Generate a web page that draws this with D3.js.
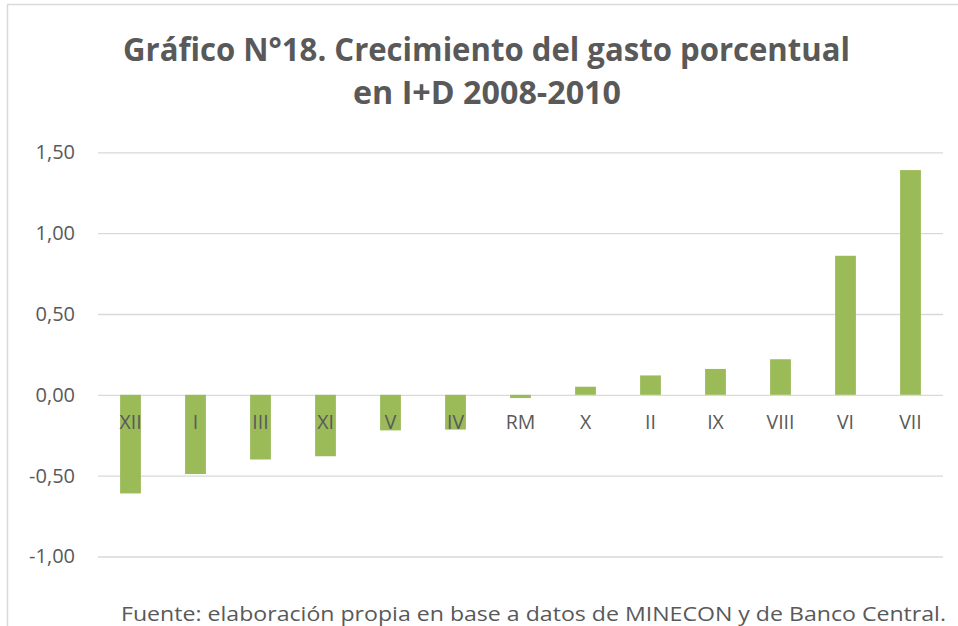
<!DOCTYPE html>
<html>
<head>
  <meta charset="utf-8">
  <script src="https://d3js.org/d3.v7.min.js"></script>
  <style>
    body { margin: 0; background: #fff; }
    text { font-family: "Open Sans", sans-serif; fill: #595959; }
  </style>
</head>
<body>
  <div id="chart"></div>
  <script>
    // data
    var regions = ["XII", "I", "III", "XI", "V", "IV", "RM", "X", "II", "IX", "VIII", "VI", "VII"];
    var growth = [-0.61, -0.49, -0.40, -0.38, -0.22, -0.215, -0.02, 0.05, 0.12, 0.16, 0.22, 0.86, 1.39];
    var yTicks = [-1, -0.5, 0, 0.5, 1, 1.5];

    var W = 958, H = 626;
    var plot = { left: 98, right: 943, top: 152.3, bottom: 556.5 };

    var svg = d3.select("#chart").append("svg")
      .attr("width", W)
      .attr("height", H);

    // chart area border (only left and top show in the picture)
    svg.append("rect")
      .attr("x", 7.5).attr("y", 4.5)
      .attr("width", 1000).attr("height", 700)
      .attr("fill", "none")
      .attr("stroke", "#d9d9d9")
      .attr("stroke-width", 1.5);

    // title
    svg.append("text")
      .attr("x", 486.5).attr("y", 61)
      .attr("text-anchor", "middle")
      .style("font-size", "32px")
      .style("font-weight", "bold")
      .attr("textLength", 727)
      .attr("lengthAdjust", "spacingAndGlyphs")
      .text("Gráfico N°18. Crecimiento del gasto porcentual");
    svg.append("text")
      .attr("x", 487).attr("y", 104)
      .attr("text-anchor", "middle")
      .style("font-size", "32px")
      .style("font-weight", "bold")
      .attr("textLength", 268)
      .attr("lengthAdjust", "spacingAndGlyphs")
      .text("en I+D 2008-2010");

    var x = d3.scaleBand()
      .domain(regions)
      .range([plot.left, plot.right])
      .paddingInner(0.68)
      .paddingOuter(0.34);

    var y = d3.scaleLinear()
      .domain([-1, 1.5])
      .range([plot.bottom, plot.top]);

    var fmt = function(d) { return d3.format(".2f")(d).replace(".", ",").replace("−", "-"); };

    // gridlines + tick labels
    var yAxis = svg.append("g")
      .attr("transform", "translate(" + plot.left + ",0)")
      .call(d3.axisLeft(y).tickValues(yTicks).tickSize(-(plot.right - plot.left)).tickPadding(23).tickFormat(fmt));
    yAxis.select(".domain").remove();
    yAxis.selectAll(".tick line").attr("stroke", "#d9d9d9").attr("stroke-width", 1.3);
    yAxis.selectAll(".tick text")
      .style("font-size", "20px")
      .style("font-family", "'Open Sans', sans-serif")
      .attr("fill", "#595959");

    // bars
    svg.append("g")
      .selectAll("rect")
      .data(regions)
      .enter()
      .append("rect")
      .attr("x", function(d) { return x(d); })
      .attr("width", x.bandwidth())
      .attr("y", function(d, i) { return y(Math.max(0, growth[i])); })
      .attr("height", function(d, i) { return Math.abs(y(growth[i]) - y(0)); })
      .attr("fill", "#9bbb59");

    // category labels, just under the zero line
    var xAxis = svg.append("g")
      .attr("transform", "translate(0," + y(0) + ")")
      .call(d3.axisBottom(x).tickSize(0).tickPadding(20));
    xAxis.select(".domain").remove();
    xAxis.selectAll(".tick text")
      .style("font-size", "19.5px")
      .style("font-family", "'Open Sans', sans-serif")
      .attr("fill", "#595959");

    // source
    svg.append("text")
      .attr("x", 121).attr("y", 621)
      .style("font-size", "19.5px")
      .attr("textLength", 825)
      .attr("lengthAdjust", "spacingAndGlyphs")
      .text("Fuente: elaboración propia en base a datos de MINECON y de Banco Central.");
  </script>
</body>
</html>
